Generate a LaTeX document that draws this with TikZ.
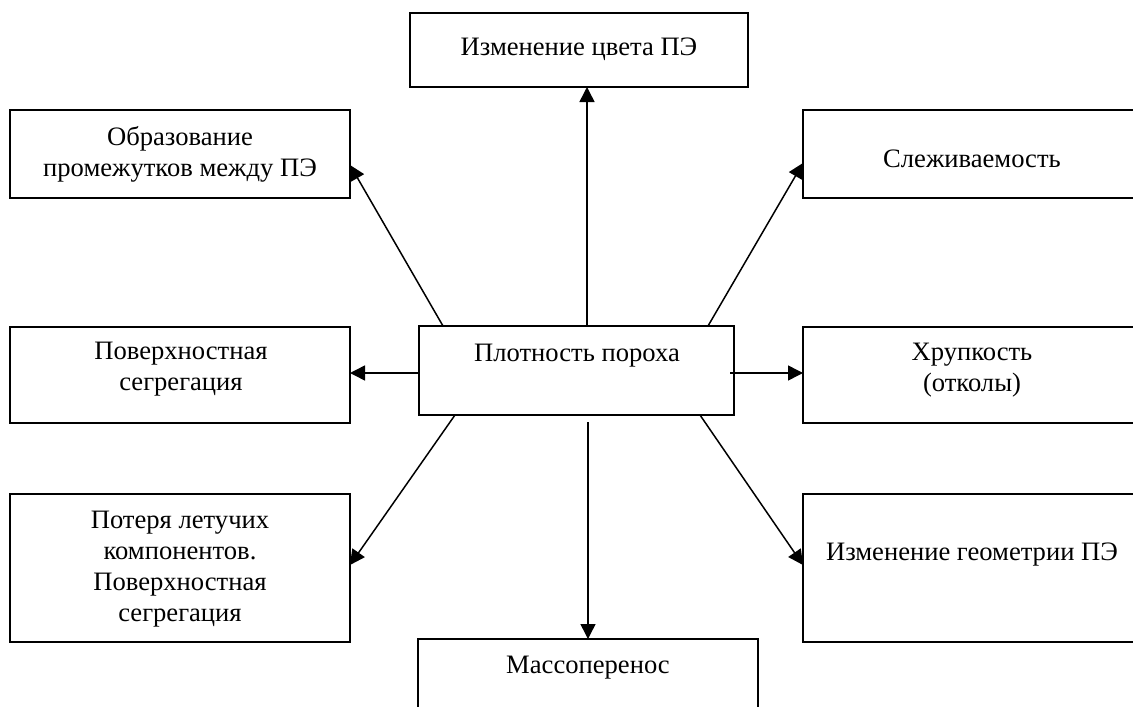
\documentclass[tikz,border=0pt]{standalone}
\usepackage{fontspec}
\setmainfont{Liberation Serif}
\usetikzlibrary{arrows.meta,calc}

\begin{document}
\begin{tikzpicture}[x=1pt,y=-1pt,
		box/.style={draw,line width=1.8pt,minimum width=340pt,inner sep=0pt,outer sep=0pt},
		txt/.style={align=center,inner sep=0pt,font=\fontsize{26.6pt}{31pt}\selectfont},
		arr/.style={line width=1.5pt,-{Triangle[length=15pt,width=15pt]}}]
	\useasboundingbox (0,0) rectangle (1133,707);
	\clip (0,0) rectangle (1133,707);
	% boxes
	\node[box,minimum width=338pt,minimum height=74pt] (colour) at (579,50) {};
	\node[box,minimum height=88pt] (gaps) at (180,154) {};
	\node[box,minimum height=88pt] (caking) at (973,154) {};
	\node[box,minimum height=96pt] (segr) at (180,375) {};
	\node[box,minimum height=96pt] (brittle) at (973,375) {};
	\node[box,minimum width=315pt,minimum height=89pt] (core) at (576.5,370.5) {};
	\node[box,minimum height=148pt] (loss) at (180,568) {};
	\node[box,minimum height=148pt] (shape) at (973,568) {};
	\node[box,minimum height=102pt] (mass) at (588,690) {};
	% texts
	\node[txt] (colour-t) at (579,49.5) {Изменение цвета ПЭ};
	\node[txt] (gaps-t) at (180,154) {Образование\\промежутков между ПЭ};
	\node[txt] (caking-t) at (972,159) {Слеживаемость};
	\node[txt] (segr-t) at (181,369) {Поверхностная\\сегрегация};
	\node[txt] (brittle-t) at (972,370) {Хрупкость\\(отколы)};
	\node[txt] (core-t) at (577,355.5) {Плотность пороха};
	\node[txt] (loss-t) at (180,569) {Потеря летучих\\компонентов.\\Поверхностная\\сегрегация};
	\node[txt] (shape-t) at (972,555) {Изменение геометрии ПЭ};
	\node[txt] (mass-t) at (588,667.5) {Массоперенос};
	% arrows
	\draw[arr] ([xshift=10.5pt]core.north) -- ([xshift=10.5pt]core.north |- colour.south);
	\draw[arr] ([xshift=11.5pt,yshift=-7pt]core.south) -- ([xshift=11.5pt]core.south |- mass.north);
	\draw[arr] ([yshift=-2.5pt]core.west) -- ([yshift=-2.5pt]core.west -| segr.east);
	\draw[arr] ([xshift=-4pt,yshift=-2.5pt]core.east) -- ([yshift=-2.5pt]core.east -| brittle.west);
	\draw[arr] ([xshift=24pt]core.north west) -- ([yshift=-11pt]gaps.east);
	\draw[arr] ([xshift=-26pt]core.north east) -- ([yshift=-9pt]caking.west);
	\draw[arr] ([xshift=36pt]core.south west) -- ([yshift=3pt]loss.east);
	\draw[arr] ([xshift=-34pt]core.south east) -- ([yshift=3pt]shape.west);
\end{tikzpicture}
\end{document}
